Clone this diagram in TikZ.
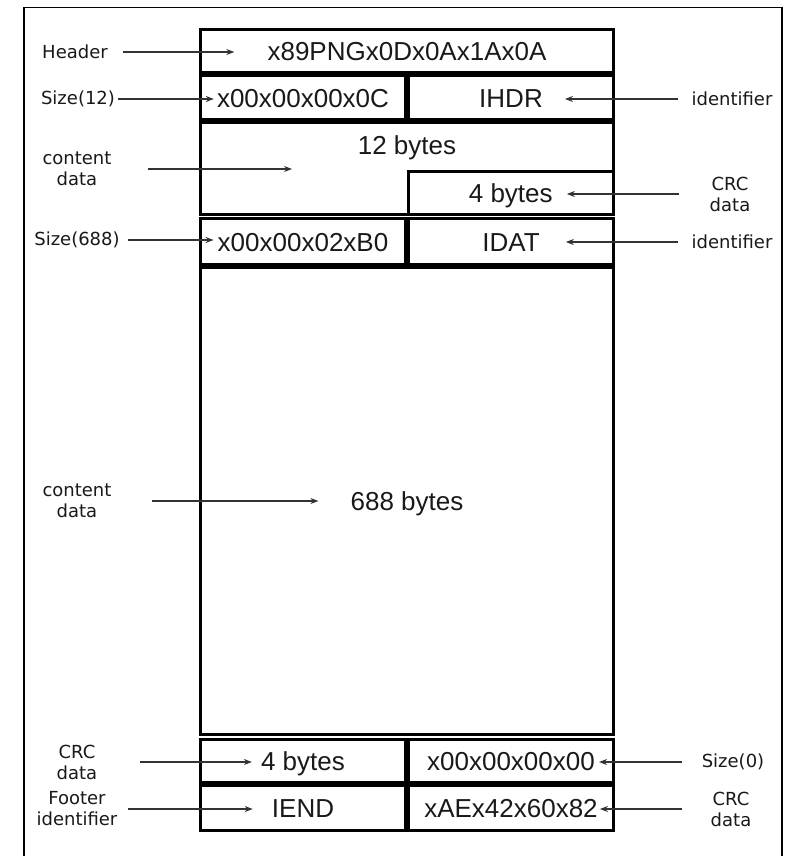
\documentclass[tikz,border=0pt]{standalone}
\usepackage{fontspec}
\setmainfont{Liberation Sans}
\newfontfamily\lblfont{DejaVu Sans}
\usetikzlibrary{arrows.meta,positioning}

\begin{document}
\begin{tikzpicture}[
  x=1pt, y=-1pt,
  >={Stealth[length=8pt,width=6pt]},
  cell/.style={draw,rectangle,line width=3pt,inner sep=0pt},
  val/.style={font=\fontsize{26}{30}\selectfont,text=black!90,inner sep=0pt,
              text height=19pt,text depth=0pt},
  tag/.style={font=\lblfont\fontsize{18}{21}\selectfont,text=black!90,
              align=center,inner sep=0pt},
  wire/.style={draw,line width=1.2pt,black!80},
]
\useasboundingbox (0,0) rectangle (793,856);

% outer frame (bottom edge runs off the page)
\draw[line width=1.5pt] (24,7.5) rectangle (782,860);

%% =====================================================
%%  PNG BYTE LAYOUT (stacked cells)
%% =====================================================

% --- signature ---
\node[cell,minimum width=413pt,minimum height=43pt] (hdr) at (407,51) {};
\node[val] (vhdr) at (hdr) {x89PNGx0Dx0Ax1Ax0A};

% --- IHDR chunk ---
\node[cell,minimum width=205pt,minimum height=44pt] (len1) at (303,97.5) {};
\node[cell,minimum width=205pt,minimum height=44pt] (typ1) at (511,97.5) {};
\node[val] (vlen1) at (len1) {x00x00x00x0C};
\node[val] (vtyp1) at (typ1) {IHDR};

\node[cell,minimum width=413pt,minimum height=92pt] (dat1) at (407,168.5) {};
\node[val,below=14pt of dat1.north] (vdat1) {12 bytes};
\node[cell,minimum width=205.5pt,minimum height=43.5pt] (crc1) at (510.75,192.75) {};
\node[val] (vcrc1) at (crc1) {4 bytes};

% --- IDAT chunk ---
\node[cell,minimum width=205pt,minimum height=46pt] (len2) at (303,241.5) {};
\node[cell,minimum width=205pt,minimum height=46pt] (typ2) at (511,241.5) {};
\node[val] (vlen2) at (len2) {x00x00x02xB0};
\node[val] (vtyp2) at (typ2) {IDAT};

\node[cell,minimum width=413pt,minimum height=467.5pt] (dat2) at (407,500.75) {};
\node[val] (vdat2) at (dat2) {688 bytes};

\node[cell,minimum width=205pt,minimum height=43pt] (crc2) at (303,761) {};
\node[val] (vcrc2) at (crc2) {4 bytes};

% --- IEND chunk ---
\node[cell,minimum width=205pt,minimum height=43pt] (len3) at (511,761) {};
\node[val] (vlen3) at (len3) {x00x00x00x00};
\node[cell,minimum width=205pt,minimum height=45pt] (typ3) at (303,808) {};
\node[cell,minimum width=205pt,minimum height=45pt] (crc3) at (511,808) {};
\node[val] (vtyp3) at (typ3) {IEND};
\node[val] (vcrc3) at (crc3) {xAEx42x60x82};

%% =====================================================
%%  Side labels and arrows
%% =====================================================

% --- left side ---
\node[tag] (lhdr)  at (75,52)  {Header};
\node[tag] (llen1) at (78,99)  {Size(12)};
\node[tag] (ldat1) at (77,169) {content\\data};
\node[tag] (llen2) at (77,240) {Size(688)};
\node[tag] (ldat2) at (77,501) {content\\data};
\node[tag] (lcrc2) at (77,762) {CRC\\data};
\node[tag] (ltyp3) at (77,809) {Footer\\identifier};
\coordinate (d1tip) at (292,169);

\draw[wire,->,shorten <=15pt,shorten >=33pt] (lhdr.east) -- (lhdr.east -| vhdr.west);
\draw[wire,->,shorten <=3pt,shorten >=3pt]   (llen1.east) -- (llen1.east -| vlen1.west);
\draw[wire,->,shorten <=36pt]                (ldat1.east) -- (d1tip);
\draw[wire,->,shorten <=8pt,shorten >=4pt]   (llen2.east) -- (llen2.east -| vlen2.west);
\draw[wire,->,shorten <=40pt,shorten >=32pt] (ldat2.east) -- (ldat2.east -| vdat2.west);
\draw[wire,->,shorten <=43pt,shorten >=9pt]  (lcrc2.east) -- (lcrc2.east -| vcrc2.west);
\draw[wire,->,shorten <=10pt,shorten >=19pt] (ltyp3.east) -- (ltyp3.east -| vtyp3.west);

% --- right side ---
\node[tag] (ltyp1) at (732,99)  {identifier};
\node[tag] (lcrc1) at (730,194) {CRC\\data};
\node[tag] (ltyp2) at (732,242) {identifier};
\node[tag] (llen3) at (733,762) {Size(0)};
\node[tag] (lcrc3) at (731,809) {CRC\\data};

\draw[wire,->,shorten <=13pt,shorten >=22pt] (ltyp1.west) -- (ltyp1.west -| vtyp1.east);
\draw[wire,->,shorten <=31pt,shorten >=14pt] (lcrc1.west) -- (lcrc1.west -| vcrc1.east);
\draw[wire,->,shorten <=13pt,shorten >=26pt] (ltyp2.west) -- (ltyp2.west -| vtyp2.east);
\draw[wire,->,shorten <=20pt,shorten >=4pt]  (llen3.west) -- (llen3.west -| vlen3.east);
\draw[wire,->,shorten <=29pt,shorten >=2pt]  (lcrc3.west) -- (lcrc3.west -| vcrc3.east);

\end{tikzpicture}
\end{document}
